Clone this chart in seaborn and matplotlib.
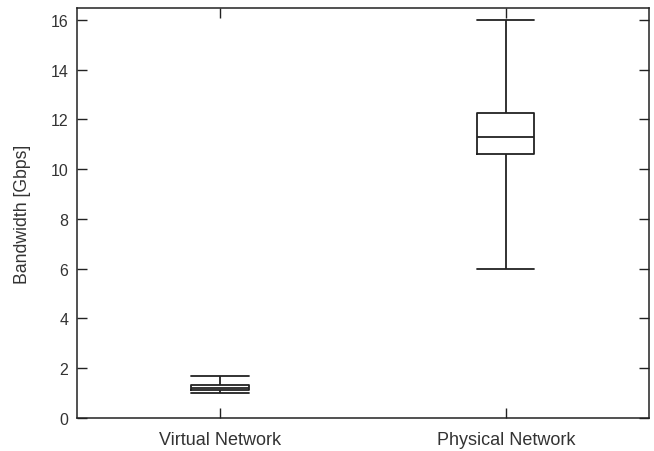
import matplotlib
matplotlib.use("Agg")
import matplotlib.pyplot as plt
import seaborn as sns
import pandas as pd

# five-number summaries: min, q1, median, q3, max
categories = ["Virtual Network", "Physical Network"]
virtual_bw = [1.0, 1.13, 1.22, 1.33, 1.69]
physical_bw = [6.0, 10.6, 11.3, 12.25, 16.0]

df = pd.DataFrame({
    "Network": [categories[0]] * len(virtual_bw) + [categories[1]] * len(physical_bw),
    "Bandwidth": virtual_bw + physical_bw,
})

sns.set_style("ticks")
plt.rcParams["font.family"] = ["Liberation Sans", "DejaVu Sans"]

fig = plt.figure(figsize=(6.54, 4.52), dpi=100)
ax = fig.add_axes([0.118, 0.073, 0.874, 0.907])

box_w = 0.2
line_props = dict(color="#222222", linewidth=1.3)
sns.boxplot(
    data=df, x="Network", y="Bandwidth", order=categories, ax=ax,
    whis=(0, 100), width=box_w, fill=False, color="#222222", linewidth=1.3,
    boxprops=line_props, whiskerprops=line_props, capprops=line_props,
    medianprops=line_props, showfliers=False,
)
# gnuplot-style caps: as wide as the boxes
for ln in ax.lines:
    xs, ys = ln.get_xdata(), ln.get_ydata()
    if len(xs) == 2 and ys[0] == ys[1]:
        c = (xs[0] + xs[1]) / 2
        ln.set_xdata([c - box_w / 2, c + box_w / 2])

ax.set_xlim(-0.5, 1.5)
ax.set_ylim(0, 16.48)
ax.set_yticks(range(0, 17, 2))
ax.set_xlabel("")
ax.set_ylabel("Bandwidth [Gbps]", fontsize=12.7, color="#333333", labelpad=14)
ax.tick_params(direction="in", length=7, width=1, colors="#222222",
               top=True, right=True, labelcolor="#333333")
ax.tick_params(axis="y", labelsize=11.5, pad=6.5)
ax.tick_params(axis="x", labelsize=13, pad=9)
for s in ax.spines.values():
    s.set_linewidth(1.1)
    s.set_color("#222222")

fig.savefig("out.png", dpi=100)
